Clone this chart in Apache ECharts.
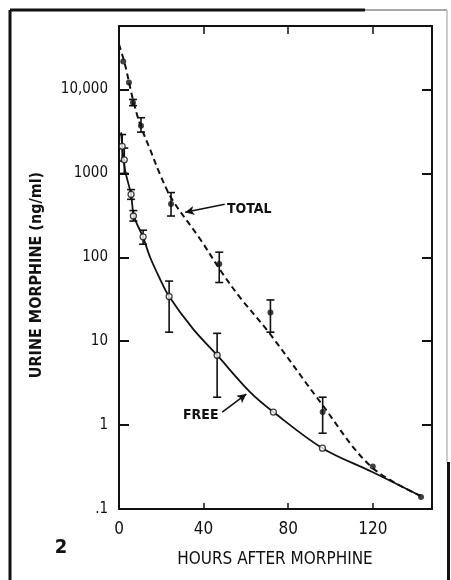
<!DOCTYPE html>
<html>
<head>
<meta charset="utf-8">
<script src="https://cdn.jsdelivr.net/npm/echarts@6/dist/echarts.min.js"></script>
<style>
html,body{margin:0;padding:0;background:#fff;}
#chart{width:451px;height:580px;}
</style>
</head>
<body>
<div id="chart"></div>
<script>
// ---- data ----
const xTickLabels = ['0', '40', '80', '120'];
const yTickLabels = ['.1', '1', '10', '100', '1000', '10,000'];

// TOTAL (filled circles): hours, ng/ml
const totalT = [2, 4.7, 6.6, 10.4, 24.6, 47.4, 71.6, 96.3, 120, 142.8];
const totalV = [21500, 12100, 7000, 3700, 430, 83, 22, 1.43, 0.32, 0.139];
// error bars [hours, low, high]
const totalErr = [
  [6.6, 6400, 7600],
  [10.4, 3100, 4600],
  [24.6, 310, 590],
  [47.4, 50, 115],
  [71.6, 12.8, 31],
  [96.3, 0.8, 2.15]
];
// fitted dashed curve
const totalCurveT = [0, 2.8, 6.6, 10, 14.7, 19.4, 25.1, 38.4, 48.8, 57.3, 71.5, 95.2, 118.9, 142.6];
const totalCurveV = [34400, 19900, 7600, 3830, 1930, 973, 490, 164, 65, 33, 12.1, 1.88, 0.325, 0.143];

// FREE (open circles)
const freeT = [1.5, 2.5, 5.7, 6.8, 11.4, 23.7, 46.4, 73, 96.2];
const freeV = [2100, 1450, 560, 310, 175, 34, 6.8, 1.43, 0.53];
const freeErr = [
  [1.5, 1400, 2900],
  [2.5, 1000, 2000],
  [5.7, 490, 640],
  [6.8, 270, 360],
  [11.4, 143, 210],
  [23.7, 12.8, 52],
  [46.4, 2.15, 12.4]
];
// fitted solid curve
const freeCurveT = [1, 2.8, 5.7, 7.1, 11.4, 14.7, 19.4, 23.7, 35, 46.4, 62, 73, 96.2, 119.8, 142.6];
const freeCurveV = [3080, 1120, 560, 308, 173, 100, 55, 34, 14, 6.8, 2.47, 1.43, 0.53, 0.276, 0.143];

// annotation arrows [tail, head] in data coords
const totalArrow = [[50, 428], [31.3, 344]];
const freeArrow = [[48.8, 1.43], [60.2, 2.34]];

// ---- chart ----
const zip = (a, b) => a.map((v, i) => [v, b[i]]);
const FONT = '"DejaVu Sans Condensed", "DejaVu Sans", sans-serif';
const INK = '#111';

function yLabel(v) {
  const l = Math.log10(v);
  const r = Math.round(l);
  if (Math.abs(l - r) > 1e-6) return '';
  const idx = r + 1;
  return yTickLabels[idx] !== undefined ? yTickLabels[idx] : '';
}
function xLabel(v) {
  const s = String(Math.round(v));
  return (Math.abs(v - Math.round(v)) < 1e-6 && xTickLabels.indexOf(s) >= 0) ? s : '';
}

function errRender(params, api) {
  const t = api.value(0);
  const lo = api.coord([t, api.value(1)]);
  const hi = api.coord([t, api.value(2)]);
  const w = 4;
  const style = { stroke: INK, lineWidth: 1.6 };
  return {
    type: 'group',
    children: [
      { type: 'line', shape: { x1: lo[0], y1: lo[1], x2: hi[0], y2: hi[1] }, style },
      { type: 'line', shape: { x1: lo[0] - w, y1: lo[1], x2: lo[0] + w, y2: lo[1] }, style },
      { type: 'line', shape: { x1: hi[0] - w, y1: hi[1], x2: hi[0] + w, y2: hi[1] }, style }
    ]
  };
}

const axisLine = { show: true, onZero: false, lineStyle: { color: INK, width: 2 } };

const option = {
  animation: false,
  backgroundColor: '#fff',
  grid: { left: 119, right: 19, top: 26, bottom: 71 },
  xAxis: [
    {
      type: 'value', position: 'bottom', min: 0, max: 148, interval: 40,
      axisLine, splitLine: { show: false },
      axisTick: { show: true, inside: true, length: 6, lineStyle: { color: INK, width: 1.5 } },
      axisLabel: { formatter: xLabel, color: INK, fontFamily: FONT, fontSize: 17, margin: 12 }
    },
    {
      type: 'value', position: 'top', min: 0, max: 148, interval: 40,
      axisLine, splitLine: { show: false },
      axisTick: { show: true, inside: true, length: 8, lineStyle: { color: INK, width: 1.5 } },
      axisLabel: { show: false }
    }
  ],
  yAxis: [
    {
      type: 'log', logBase: 10, position: 'left', min: 0.1, max: 57000,
      axisLine, splitLine: { show: false }, minorTick: { show: false },
      axisTick: { show: true, inside: true, length: 10, lineStyle: { color: INK, width: 2 } },
      axisLabel: { formatter: yLabel, color: INK, fontFamily: FONT, fontSize: 15, margin: 11 }
    },
    {
      type: 'log', logBase: 10, position: 'right', min: 0.1, max: 57000,
      axisLine, splitLine: { show: false },
      axisTick: { show: true, inside: true, length: 10, lineStyle: { color: INK, width: 2 } },
      axisLabel: { show: false }
    }
  ],
  series: [
    {
      name: 'totalCurve', type: 'line', data: zip(totalCurveT, totalCurveV),
      smooth: 0.35, showSymbol: false, silent: true,
      lineStyle: { color: INK, width: 2, type: [6, 4] }
    },
    {
      name: 'freeCurve', type: 'line', data: zip(freeCurveT, freeCurveV),
      smooth: 0.35, showSymbol: false, silent: true,
      lineStyle: { color: INK, width: 1.8 }
    },
    { name: 'totalErr', type: 'custom', renderItem: errRender, data: totalErr, silent: true, z: 3 },
    { name: 'freeErr', type: 'custom', renderItem: errRender, data: freeErr, silent: true, z: 3 },
    {
      name: 'TOTAL', type: 'scatter', data: zip(totalT, totalV), symbol: 'circle', symbolSize: 6,
      itemStyle: { color: INK }, z: 5,
      markLine: {
        silent: true, symbol: ['none', 'arrow'], symbolSize: [7, 9],
        lineStyle: { color: INK, width: 1.6, type: 'solid' }, label: { show: false },
        data: [[{ coord: totalArrow[0] }, { coord: totalArrow[1] }]]
      }
    },
    {
      name: 'FREE', type: 'scatter', data: zip(freeT, freeV), symbol: 'circle', symbolSize: 6,
      itemStyle: { color: '#fff', borderColor: INK, borderWidth: 1.3 }, z: 5,
      markLine: {
        silent: true, symbol: ['none', 'arrow'], symbolSize: [7, 9],
        lineStyle: { color: INK, width: 1.6, type: 'solid' }, label: { show: false },
        data: [[{ coord: freeArrow[0] }, { coord: freeArrow[1] }]]
      }
    }
  ],
  graphic: [
    // outer frame
    { type: 'line', shape: { x1: 10, y1: 10, x2: 10, y2: 580 }, style: { stroke: INK, lineWidth: 3 } },
    { type: 'line', shape: { x1: 10, y1: 10, x2: 365, y2: 10 }, style: { stroke: INK, lineWidth: 3 } },
    { type: 'line', shape: { x1: 365, y1: 10, x2: 447, y2: 10 }, style: { stroke: '#888', lineWidth: 1.5 } },
    { type: 'line', shape: { x1: 447, y1: 10, x2: 447, y2: 462 }, style: { stroke: '#bbb', lineWidth: 1.5 } },
    { type: 'line', shape: { x1: 448.5, y1: 462, x2: 448.5, y2: 580 }, style: { stroke: INK, lineWidth: 3 } },
    // annotations
    { type: 'text', x: 227, y: 209, style: { text: 'TOTAL', fill: INK, font: 'bold 14px ' + FONT, textVerticalAlign: 'middle' } },
    { type: 'text', x: 183, y: 415, style: { text: 'FREE', fill: INK, font: 'bold 14px ' + FONT, textVerticalAlign: 'middle' } },
    { type: 'text', x: 61, y: 548, style: { text: '2', fill: INK, font: 'bold 20px ' + FONT, textAlign: 'center', textVerticalAlign: 'middle' } },
    { type: 'text', x: 275, y: 560, style: { text: 'HOURS AFTER MORPHINE', fill: INK, font: '17px ' + FONT, textAlign: 'center', textVerticalAlign: 'middle' } },
    { type: 'text', x: 37, y: 275, rotation: Math.PI / 2, style: { text: 'URINE MORPHINE (ng/ml)', fill: INK, font: 'bold 16px ' + FONT, textAlign: 'center', textVerticalAlign: 'middle' } }
  ]
};

const chart = echarts.init(document.getElementById('chart'), null, { renderer: 'canvas' });
chart.setOption(option);
</script>
</body>
</html>
